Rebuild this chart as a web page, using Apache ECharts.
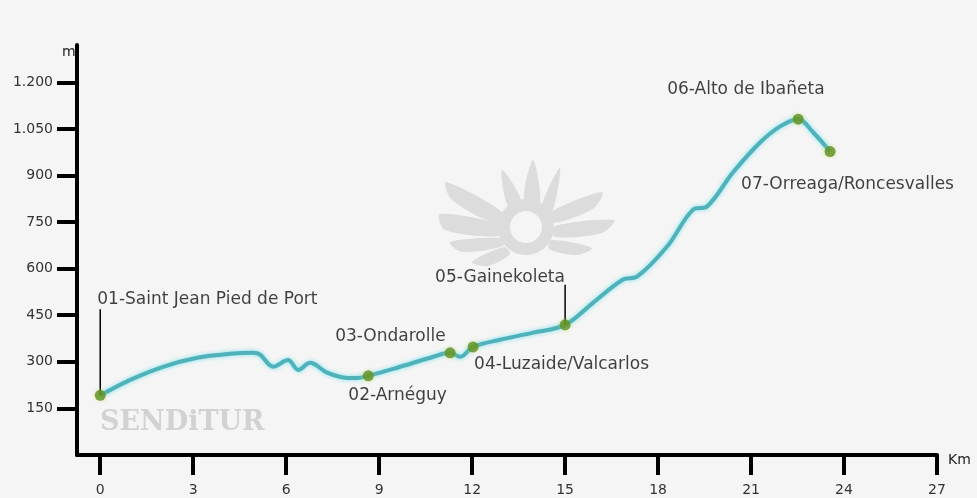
<!DOCTYPE html>
<html>
<head>
<meta charset="utf-8">
<script src="https://cdn.jsdelivr.net/npm/echarts@6/dist/echarts.min.js"></script>
<style>
html,body{margin:0;padding:0;background:#f5f5f5;}
#chart{width:977px;height:498px;}
</style>
</head>
<body>
<div id="chart"></div>
<script>
// Elevation profile (km, m)
const profileKm   = [0, 0.97, 2.03, 3.13, 4.19, 4.94, 5.16, 5.58, 6.06, 6.39, 6.77, 7.32, 7.97, 8.29, 8.65, 9.58, 10.65, 11.29, 11.61, 12.03, 12.9, 13.97, 15.0, 15.9, 16.87, 17.32, 18.29, 19.13, 19.58, 20.42, 21.29, 21.94, 22.52, 23.0, 23.55];
const profileElev = [192, 242, 284, 313, 326, 329, 323, 284, 306, 274, 297, 265, 248, 248, 255, 281, 313, 329, 316, 348, 371, 394, 419, 490, 565, 574, 671, 790, 800, 910, 1006, 1058, 1081, 1039, 977];

// Waypoints
const wpNames = ['01-Saint Jean Pied de Port', '02-Arnéguy', '03-Ondarolle', '04-Luzaide/Valcarlos', '05-Gainekoleta', '06-Alto de Ibañeta', '07-Orreaga/Roncesvalles'];
const wpKm    = [0, 8.65, 11.29, 12.03, 15.0, 22.52, 23.55];
const wpElev  = [192, 255, 329, 348, 419, 1081, 977];

// Tick labels
const xTicks = [0, 3, 6, 9, 12, 15, 18, 21, 24, 27];
const yTicks = [150, 300, 450, 600, 750, 900, 1050, 1200];

const labelOffsets = [[-3, -96], [-20, 20], [-115, -16], [1, 18], [-130, -47], [-131, -30], [-89, 33]];
const leaderLength = [86, 0, 0, 0, 40, 0, 0];

const chart = echarts.init(document.getElementById('chart'), null, {renderer: 'canvas'});

const lineData = profileKm.map((k, i) => [k, profileElev[i]]);
const wpData = wpKm.map((k, i) => ({
  value: [k, wpElev[i]],
  name: wpNames[i],
  label: {offset: labelOffsets[i]}
}));

const grey = '#dcdcdc';
function poly(points) {
  return {type: 'polygon', silent: true, z: 0, shape: {points: points, smooth: 0.3}, style: {fill: grey}};
}

const decor = [
  {type: 'text', left: 62, top: 45, silent: true, style: {text: 'm', fill: '#222', font: '14px "DejaVu Sans"'}},
  {type: 'text', left: 948, top: 453, silent: true, style: {text: 'Km', fill: '#222', font: '14px "DejaVu Sans"'}},
  {type: 'text', left: 100, top: 409, silent: true, z: 0, style: {text: 'SENDiTUR', fill: '#d2d2d2', font: 'bold 27px "DejaVu Serif"'}},
  {type: 'circle', silent: true, z: 0, shape: {cx: 526, cy: 227, r: 22}, style: {fill: 'none', stroke: grey, lineWidth: 12}},
  poly([[502, 212], [446, 182], [452, 200], [497, 224]]),
  poly([[497, 224], [440, 214], [445, 230], [499, 236]]),
  poly([[500, 238], [450, 242], [462, 252], [503, 246]]),
  poly([[504, 247], [472, 262], [488, 266], [510, 254]]),
  poly([[551, 212], [602, 192], [594, 208], [554, 223]]),
  poly([[555, 226], [614, 220], [602, 233], [555, 237]]),
  poly([[552, 240], [592, 248], [577, 255], [549, 249]]),
  poly([[508, 206], [502, 170], [521, 200]]),
  poly([[524, 200], [533, 160], [540, 202]]),
  poly([[542, 205], [560, 168], [552, 212]])
];

const option = {
  backgroundColor: '#f5f5f5',
  animation: false,
  grid: {left: 77, right: 40, top: 45, bottom: 43, containLabel: false},
  xAxis: {
    type: 'value', min: -0.75, max: 27,
    axisLine: {show: true, onZero: false, lineStyle: {color: '#000', width: 4}},
    axisTick: {show: true, length: 20, lineStyle: {color: '#000', width: 4}, customValues: xTicks},
    axisLabel: {customValues: xTicks, margin: 28, color: '#333', fontFamily: 'DejaVu Sans', fontSize: 14},
    splitLine: {show: false}
  },
  yAxis: {
    type: 'value', min: 0, max: 1320,
    axisLine: {show: true, onZero: false, lineStyle: {color: '#000', width: 4}},
    axisTick: {show: true, length: 20, lineStyle: {color: '#000', width: 4}, customValues: yTicks},
    axisLabel: {customValues: yTicks, margin: 24, color: '#333', fontFamily: 'DejaVu Sans', fontSize: 14,
      formatter: v => v >= 1000 ? Math.floor(v / 1000) + '.' + String(v % 1000).padStart(3, '0') : String(v)},
    splitLine: {show: false}
  },
  graphic: decor,
  series: [
    {
      type: 'line', data: lineData, smooth: 0.35, showSymbol: false, z: 3,
      lineStyle: {color: '#4fb2bb', width: 4, shadowColor: 'rgba(110,225,235,0.9)', shadowBlur: 4}
    },
    {
      type: 'scatter', data: wpData, symbolSize: 11, z: 5,
      itemStyle: {color: '#5f8f22', shadowColor: 'rgba(200,220,80,0.6)', shadowBlur: 4},
      label: {show: true, position: 'inside', align: 'left', verticalAlign: 'middle',
        formatter: p => p.name, color: '#111', fontFamily: 'DejaVu Sans', fontSize: 17}
    }
  ]
};
chart.setOption(option);

// Leader lines from waypoint markers up to their labels
const leaders = [];
wpKm.forEach((k, i) => {
  if (!leaderLength[i]) return;
  const p = chart.convertToPixel({gridIndex: 0}, [k, wpElev[i]]);
  leaders.push({type: 'line', silent: true, z: 4,
    shape: {x1: p[0], y1: p[1], x2: p[0], y2: p[1] - leaderLength[i]},
    style: {stroke: '#000', lineWidth: 1.5}});
});
chart.setOption({graphic: decor.concat(leaders)});
</script>
</body>
</html>
